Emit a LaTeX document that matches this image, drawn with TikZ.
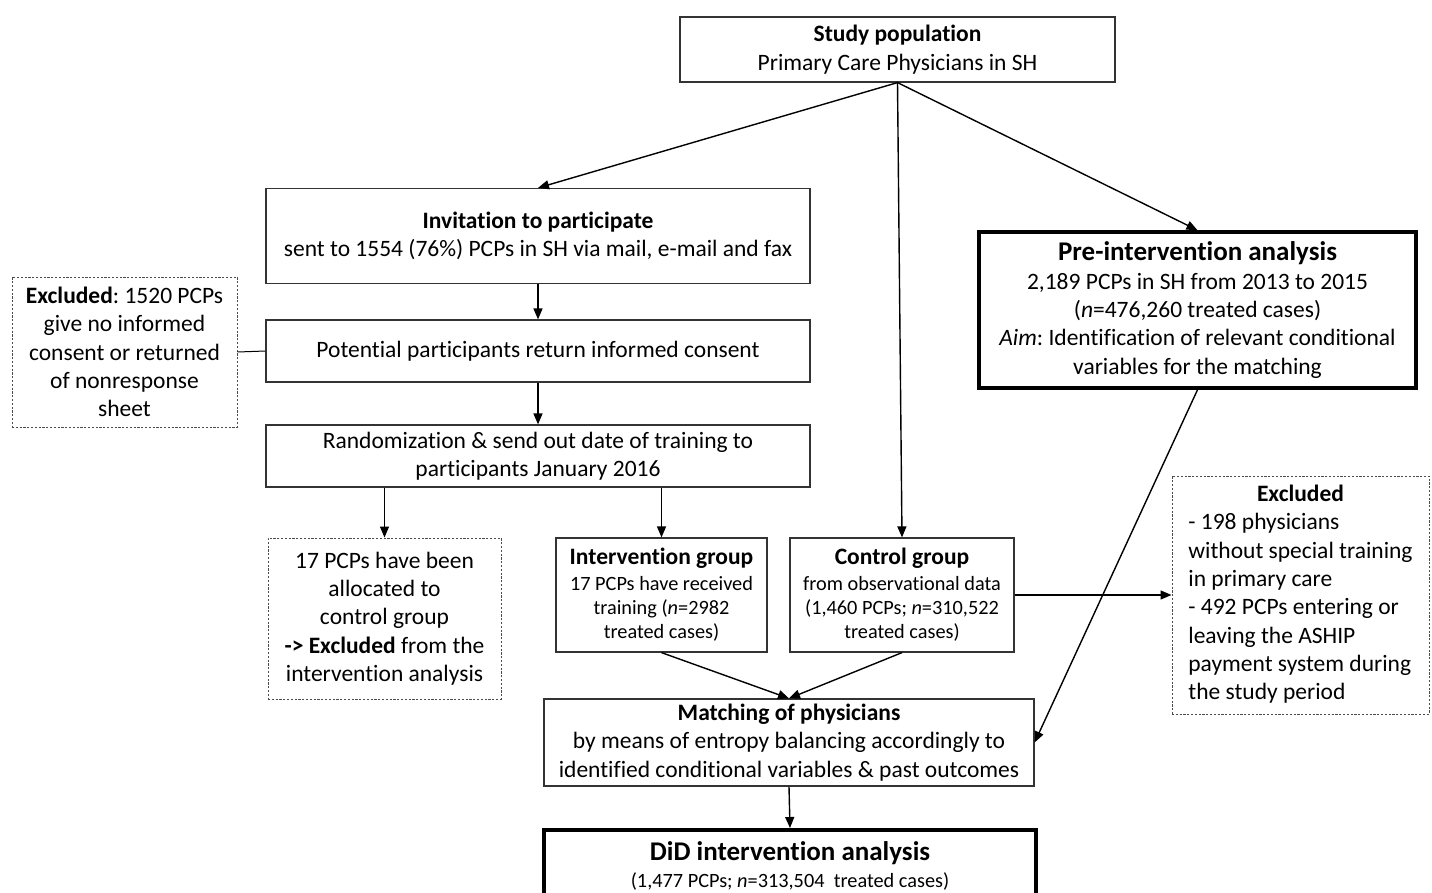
\documentclass[tikz,border=0pt]{standalone}
\usepackage{fontspec}
\setmainfont{Carlito}[Ligatures=NoCommon]
\usetikzlibrary{arrows.meta}
\frenchspacing
\newcommand{\nfnt}{\fontsize{23.5}{28.3}\selectfont}
\newcommand{\sfnt}{\fontsize{20.3}{24}\selectfont}
\newcommand{\bfnt}{\fontsize{27}{30}\selectfont\bfseries}
\begin{document}
\begin{tikzpicture}[x=1pt,y=-1pt,
  box/.style={draw=black!80,line width=1.2pt,align=center,inner sep=0pt,font=\nfnt},
  small box/.style={box,font=\sfnt},
  thick box/.style={draw=black,line width=3.6pt,align=center,inner sep=0pt,font=\nfnt},
  dbox/.style={draw=black!70,line width=1pt,dash pattern=on 2.2pt off 1.6pt,align=center,inner sep=0pt,font=\nfnt},
  arr/.style={line width=1.4pt,-{Triangle[length=11pt,width=9pt]}},
  ln/.style={line width=1pt}]
\useasboundingbox (0,0) rectangle (1432,892);
\node[box,minimum width=435pt,minimum height=65pt] (study) at (897.5,49.5)
  {\textbf{Study population}\\Primary Care Physicians in SH};
\node[box,minimum width=544pt,minimum height=95pt] (invite) at (538,236)
  {\textbf{Invitation to participate}\\sent to 1554 (76\%) PCPs in SH via mail, e-mail and fax};
\node[box,minimum width=544pt,minimum height=62pt] (potential) at (538,351)
  {Potential participants return informed consent};
\node[box,minimum width=544pt,minimum height=62pt] (random) at (538,456)
  {Randomization \& send out date of training to\\participants January 2016};
\node[dbox,minimum width=225pt,minimum height=150pt] (exclL) at (124.5,352)
  {\textbf{Excluded}: 1520 PCPs\\give no informed\\consent or returned\\of nonresponse\\sheet};
\node[dbox,minimum width=233pt,minimum height=161pt] (pcp) at (384.5,618.5)
  {17 PCPs have been\\allocated to\\control group\\\textbf{-> Excluded} from the\\intervention analysis};
\node[small box,minimum width=211pt,minimum height=114pt] (interv) at (661.5,595)
  {{\nfnt\bfseries Intervention group}\\[2pt]17 PCPs have received\\training (\textit{n}=2982\\treated cases)};
\node[small box,minimum width=224pt,minimum height=114pt] (control) at (902,595)
  {{\nfnt\bfseries Control group}\\[2pt]from observational data\\(1,460 PCPs; \textit{n}=310,522\\treated cases)};
\node[thick box,minimum width=437pt,minimum height=156pt] (pre) at (1197.5,310)
  {{\bfnt Pre-intervention analysis}\\2,189 PCPs in SH from 2013 to 2015\\(\textit{n}=476,260 treated cases)\\\textit{Aim}: Identification of relevant conditional\\variables for the matching};
\node[dbox,minimum width=257pt,minimum height=238pt] (exclR) at (1300.5,595)
  {\begin{tabular}{@{}l@{}}\multicolumn{1}{@{}c@{}}{\textbf{Excluded}}\\- 198 physicians\\without special training\\in primary care\\- 492 PCPs entering or\\leaving the ASHIP\\payment system during\\the study period\end{tabular}};
\node[box,minimum width=490pt,minimum height=87pt] (match) at (789,742.5)
  {\textbf{Matching of physicians}\\by means of entropy balancing accordingly to\\identified conditional variables \& past outcomes};
\node[thick box,minimum width=492pt,minimum height=100pt,anchor=north] (did) at (790,828) {};
\node[inner sep=0pt,font=\bfnt] (didT) at (790,853) {DiD intervention analysis};
\node[inner sep=0pt,font=\sfnt] (didS) at (790,881) {(1,477 PCPs; \textit{n}=313,504\ \ treated cases)};
% connectors
\draw[arr] (study.south) -- (invite.north);
\draw[arr] (study.south) -- (control.north);
\draw[arr] (study.south) -- (pre.north);
\draw[arr] (invite.south) -- (potential.north);
\draw[arr] (potential.south) -- (random.north);
\draw[ln] (exclL.east) -- (potential.west);
\draw[arr] (random.south -| pcp.north) -- (pcp.north);
\draw[arr] (random.south -| interv.north) -- (interv.north);
\draw[arr] (interv.south) -- (match.north);
\draw[arr] (control.south) -- (match.north);
\draw[arr] (control.east) -- (exclR.west);
\draw[arr] (pre.south) -- (match.east);
\draw[arr] (match.south) -- (did.north);
\end{tikzpicture}
\end{document}
